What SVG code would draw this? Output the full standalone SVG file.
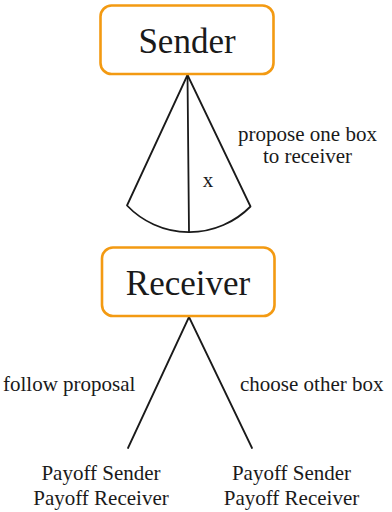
<svg xmlns="http://www.w3.org/2000/svg" width="392" height="512" viewBox="0 0 392 512" font-family="'Liberation Serif', 'Times New Roman', serif">
  <style>
    .player { fill: #ffffff; stroke: #f39a12; stroke-width: 2.6; }
    .edge { fill: none; stroke: #1a1a1a; stroke-width: 1.8; stroke-linecap: round; stroke-linejoin: round; }
    .title { font-size: 35px; text-anchor: middle; fill: #1a1a1a; }
    .lbl { font-size: 21px; fill: #1a1a1a; }
    .mid { text-anchor: middle; }
  </style>
  <rect width="392" height="512" fill="#ffffff"/>

  <!-- game-tree branches: the sender's continuous fan and the receiver's two moves -->
  <g id="connectors">
    <path class="edge" d="M187.5 75 L127 205.5 A86 86 0 0 0 250.5 206.5 Z"/>
    <line class="edge" x1="187.5" y1="75" x2="189" y2="232"/>
    <line class="edge" x1="189" y1="317" x2="128" y2="448"/>
    <line class="edge" x1="189" y1="317" x2="252" y2="448"/>
  </g>

  <g id="sender">
    <rect class="player" x="100.5" y="5.5" width="173" height="68.5" rx="11"/>
    <text class="title" x="187" y="53">Sender</text>
  </g>

  <g id="receiver">
    <rect class="player" x="102" y="247.5" width="172.5" height="68.5" rx="11"/>
    <text class="title" x="188" y="295">Receiver</text>
  </g>

  <g id="labels">
    <text class="lbl mid" x="208" y="187" font-size="24">x</text>
    <text class="lbl mid" x="307.5" y="141">propose one box</text>
    <text class="lbl mid" x="307.5" y="163">to receiver</text>
    <text class="lbl" x="3" y="391">follow proposal</text>
    <text class="lbl" x="240" y="391">choose other box</text>
  </g>

  <g id="payoff-follow">
    <text class="lbl mid" x="101" y="480">Payoff Sender</text>
    <text class="lbl mid" x="101" y="505">Payoff Receiver</text>
  </g>

  <g id="payoff-other">
    <text class="lbl mid" x="291.5" y="480">Payoff Sender</text>
    <text class="lbl mid" x="291.5" y="505">Payoff Receiver</text>
  </g>
</svg>
